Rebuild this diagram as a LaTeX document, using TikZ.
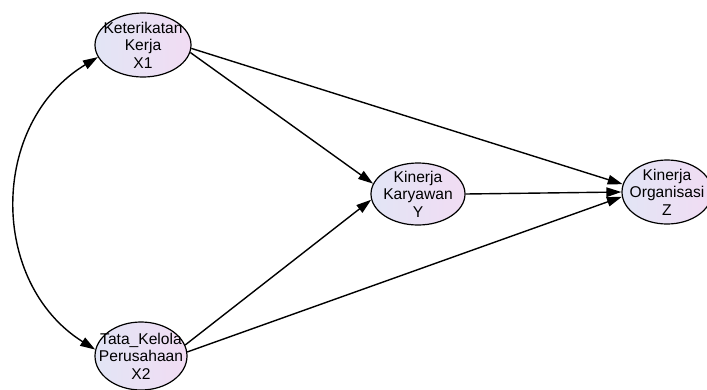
\documentclass[tikz,border=0pt]{standalone}
\usepackage{fontspec}
\setmainfont{Liberation Sans}
\usetikzlibrary{arrows.meta,shapes.geometric}
\definecolor{fillL}{RGB}{226,229,245}
\definecolor{fillR}{RGB}{241,220,243}
\begin{document}
\begin{tikzpicture}[x=1pt,y=-1pt,
  latent/.style={ellipse, draw=black, line width=1.2pt, left color=fillL, right color=fillR, inner sep=0pt},
  lbl/.style={align=center, inner sep=0pt, font=\fontsize{15.6pt}{17.4pt}\selectfont},
  arrowline/.style={-{Triangle[length=15pt,width=9.5pt]}, line width=1.4pt},
  covline/.style={{Triangle[length=15pt,width=9.5pt]}-{Triangle[length=15pt,width=9.5pt]}, line width=1.4pt}]
\useasboundingbox (0,0) rectangle (707,389);
\clip (0,0) rectangle (707,389);
\fill[white] (0,0) rectangle (707,389);
\node[latent, minimum width=96pt, minimum height=64pt] (x1) at (143,45) {};
\node[lbl] (x1t) at (x1) {Keterikatan\\Kerja\\X1};
\node[latent, minimum width=92pt, minimum height=68pt] (x2) at (141,356) {};
\node[lbl] (x2t) at (x2) {Tata\_Kelola\\Perusahaan\\X2};
\node[latent, minimum width=94pt, minimum height=62pt] (y) at (418,194) {};
\node[lbl] (yt) at (y) {Kinerja\\Karyawan\\Y};
\node[latent, minimum width=90pt, minimum height=64pt] (z) at (667,192) {};
\node[lbl] (zt) at (z) {Kinerja\\Organisasi\\Z};
\draw[arrowline] (x1.-4) -- (z.170);
\draw[arrowline] (x1.-9) -- (y.167);
\draw[arrowline] (x2.14) -- (y.187);
\draw[arrowline] (x2.5) -- (z.186);
\draw[arrowline] (y.east) -- (z.west);
\draw[covline] (x1.195) .. controls (-11,123) and (-11,283) .. (x2.172);
\end{tikzpicture}
\end{document}
